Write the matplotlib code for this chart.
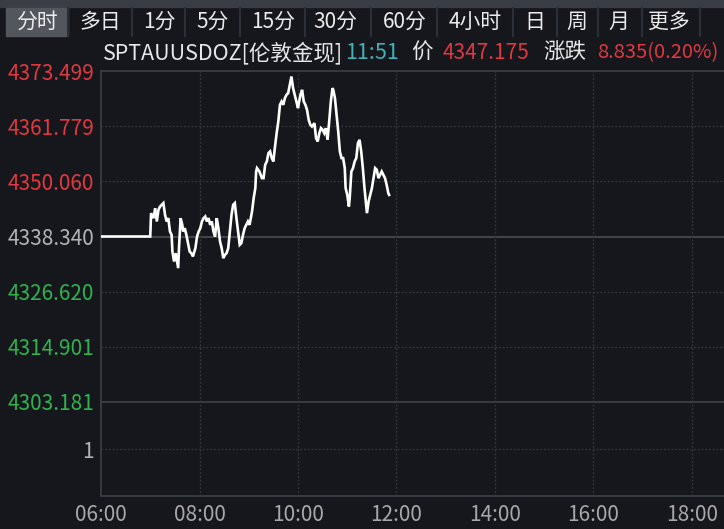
#!/usr/bin/env python3
"""gold intraday chart (London spot gold, minute line)"""

import matplotlib
matplotlib.use("Agg")
import matplotlib.pyplot as plt
from matplotlib.patches import Rectangle

plt.rcParams["font.family"] = ["Noto Sans CJK SC", "DejaVu Sans"]

# data
prev_close = 4338.340
price_ticks = [4373.499, 4361.779, 4350.060, 4338.340, 4326.620, 4314.901, 4303.181]
tick_times = ["06:00", "08:00", "10:00", "12:00", "14:00", "16:00", "18:00"]
tabs = ["分时", "多日", "1分", "5分", "15分", "30分", "60分", "4小时", "日", "周", "月", "更多"]

times = [
    "06:00", "07:00", "07:01", "07:04", "07:06", "07:08", "07:10", "07:12", "07:14", "07:16",
    "07:18", "07:20", "07:22", "07:24", "07:26", "07:27", "07:29", "07:31", "07:32", "07:34",
    "07:35", "07:37", "07:39", "07:40", "07:42", "07:44", "07:46", "07:48", "07:50", "07:52",
    "07:55", "07:57", "07:59", "08:01", "08:03", "08:05", "08:07", "08:09", "08:11", "08:13",
    "08:15", "08:17", "08:19", "08:21", "08:23", "08:25", "08:27", "08:29", "08:31", "08:33",
    "08:35", "08:37", "08:39", "08:41", "08:43", "08:45", "08:47", "08:49", "08:51", "08:53",
    "08:55", "08:57", "08:59", "09:01", "09:04", "09:06", "09:08", "09:09", "09:10", "09:13",
    "09:16", "09:18", "09:20", "09:22", "09:24", "09:26", "09:28", "09:30", "09:32", "09:34",
    "09:36", "09:38", "09:40", "09:42", "09:44", "09:46", "09:48", "09:50", "09:52", "09:54",
    "09:56", "09:58", "10:00", "10:01", "10:03", "10:05", "10:07", "10:09", "10:11", "10:13",
    "10:15", "10:17", "10:20", "10:22", "10:24", "10:26", "10:28", "10:30", "10:32", "10:34",
    "10:36", "10:38", "10:40", "10:42", "10:43", "10:45", "10:47", "10:49", "10:51", "10:53",
    "10:55", "10:57", "10:58", "11:00", "11:02", "11:03", "11:05", "11:07", "11:09", "11:11",
    "11:13", "11:15", "11:17", "11:19", "11:21", "11:23", "11:24", "11:26", "11:28", "11:30",
    "11:32", "11:34", "11:36", "11:38", "11:40", "11:42", "11:44", "11:46", "11:48", "11:50",
    "11:51",
]
prices = [
    4338.34, 4338.34, 4343.30, 4342.24, 4344.36, 4341.53, 4344.01, 4344.72, 4345.07, 4345.43,
    4342.95, 4341.53, 4342.24, 4339.41, 4338.70, 4335.16, 4333.03, 4334.80, 4333.74, 4331.62,
    4335.87, 4342.24, 4340.82, 4339.41, 4340.11, 4338.70, 4336.93, 4335.16, 4334.80, 4334.10,
    4335.87, 4338.34, 4339.41, 4340.11, 4341.53, 4342.24, 4342.59, 4341.53, 4342.24, 4340.82,
    4341.53, 4339.41, 4338.34, 4342.24, 4340.11, 4337.28, 4335.87, 4333.74, 4334.45, 4334.80,
    4335.87, 4339.41, 4342.95, 4345.07, 4345.43, 4342.24, 4339.41, 4336.57, 4336.93, 4338.70,
    4340.11, 4340.82, 4341.53, 4340.82, 4343.66, 4346.49, 4348.61, 4352.15, 4352.86, 4352.15,
    4350.74, 4350.74, 4353.57, 4354.28, 4356.05, 4356.40, 4354.99, 4354.28, 4357.46, 4360.30,
    4362.77, 4366.31, 4367.02, 4366.31, 4367.73, 4368.44, 4368.79, 4370.56, 4372.33, 4369.86,
    4368.44, 4367.02, 4365.61, 4366.67, 4368.44, 4369.50, 4367.02, 4366.31, 4365.25, 4363.13,
    4362.07, 4361.71, 4362.42, 4359.23, 4358.53, 4360.30, 4361.36, 4361.00, 4360.30, 4361.36,
    4358.88, 4362.77, 4367.02, 4369.86, 4369.50, 4367.73, 4364.19, 4360.65, 4356.40, 4354.99,
    4354.99, 4352.86, 4348.61, 4347.20, 4344.72, 4346.49, 4352.15, 4352.86, 4354.28, 4354.99,
    4358.17, 4358.88, 4356.40, 4352.86, 4348.61, 4345.07, 4343.30, 4345.78, 4347.20, 4348.61,
    4350.74, 4352.86, 4352.51, 4350.74, 4351.44, 4352.15, 4351.44, 4350.74, 4349.32, 4347.55,
    4347.175,
]

BG = "#15171d"
GRID = "#34373e"
RED = "#e0393f"
GREEN = "#2fb34c"
GREY = "#b4b4b4"
W, H = 724, 529


def hours(t):  # "HH:MM" -> decimal hours
    h, m = t.split(":")
    return int(h) + int(m) / 60


def fx(x):  # pixel -> figure fraction
    return x / W


def fy(y):
    return 1 - y / H


fig = plt.figure(figsize=(7.24, 5.29), dpi=100, facecolor=BG)

# price panel and (empty) volume panel
ax = fig.add_axes([fx(101), fy(402), 1 - fx(101), fy(71) - fy(402)], facecolor=BG)
axv = fig.add_axes([fx(101), fy(496), 1 - fx(101), fy(402) - fy(496)], facecolor=BG, sharex=ax)

x = [hours(t) for t in times]
ax.plot(x, prices, color="white", lw=1.9, solid_joinstyle="miter", zorder=3)

ax.set_xlim(6, 6 + (W - 101) / 49.25)
ax.set_ylim(price_ticks[-1], price_ticks[0])
axv.set_ylim(0, 2)

# gridlines
for p in price_ticks[1:-1]:
    if p == prev_close:
        ax.axhline(p, color="#4a4d55", lw=1.2, zorder=1)
    else:
        ax.axhline(p, color=GRID, lw=0.9, ls=(0, (1.5, 1.5)), zorder=1)
axv.axhline(1, color=GRID, lw=0.9, ls=(0, (1.5, 1.5)))
for t in tick_times[1:]:
    ax.axvline(hours(t), color=GRID, lw=0.9, ls=(0, (1.5, 1.5)), zorder=1)
    axv.axvline(hours(t), color=GRID, lw=0.9, ls=(0, (1.5, 1.5)))

for a in (ax, axv):
    for s in a.spines.values():
        s.set_color("#3c3f46")
        s.set_linewidth(1.2)
    a.spines["right"].set_visible(False)
    a.tick_params(length=0)

ax.spines["bottom"].set_color("#4a4d55")

# price labels, coloured vs previous close
ax.set_yticks(price_ticks)
ax.set_yticklabels([f"{p:.3f}" for p in price_ticks], fontsize=15)
for lab, p in zip(ax.get_yticklabels(), price_ticks):
    lab.set_color(RED if p > prev_close else GREEN if p < prev_close else GREY)
ax.tick_params(axis="y", pad=5)
ax.tick_params(axis="x", labelbottom=False)

axv.set_yticks([1])
axv.set_yticklabels(["1"], fontsize=15, color=GREY)
axv.tick_params(axis="y", pad=5)
axv.set_xticks([hours(t) for t in tick_times])
axv.set_xticklabels(tick_times, fontsize=15, color="#a8a8a8")
axv.tick_params(axis="x", pad=6)

# tab bar at the top
fig.patches.append(Rectangle((0, fy(7)), 1, 1 - fy(7), transform=fig.transFigure,
                             color="#3a3d44", zorder=0))
tab_edges = [6, 68, 132, 185, 240, 305, 371, 437, 513, 557, 598, 642, 700]
tab_centers = [37, 100, 159, 213, 273, 335, 405, 475, 535, 577, 619, 669]
for i, (name, cx) in enumerate(zip(tabs, tab_centers)):
    if i == 0:
        fig.patches.append(Rectangle((fx(6), fy(36)), fx(68) - fx(6), fy(8) - fy(36),
                                     transform=fig.transFigure, color="#53565d", zorder=1))
    fig.text(fx(cx), fy(22), name, ha="center", va="center", fontsize=15, color="#ececec")
for e in tab_edges[1:]:
    fig.lines.append(plt.Line2D([fx(e), fx(e)], [fy(36), fy(8)], transform=fig.transFigure,
                                color="#2c2f36", lw=1.5))

# header line
header = [
    (103, "SPTAUUSDOZ[伦敦金现]", "#e8e8e8", 15.5),
    (345, "11:51", "#3fb3b5", 15.5),
    (411, "价", "#e8e8e8", 15.5),
    (443, "4347.175", RED, 15),
    (543, "涨跌", "#e8e8e8", 15.5),
    (597, "8.835(0.20%)", RED, 14.5),
]
for hx, txt, col, fs in header:
    fig.text(fx(hx), fy(53), txt, ha="left", va="center", fontsize=fs, color=col)

fig.savefig("out.png", dpi=100, facecolor=BG)
